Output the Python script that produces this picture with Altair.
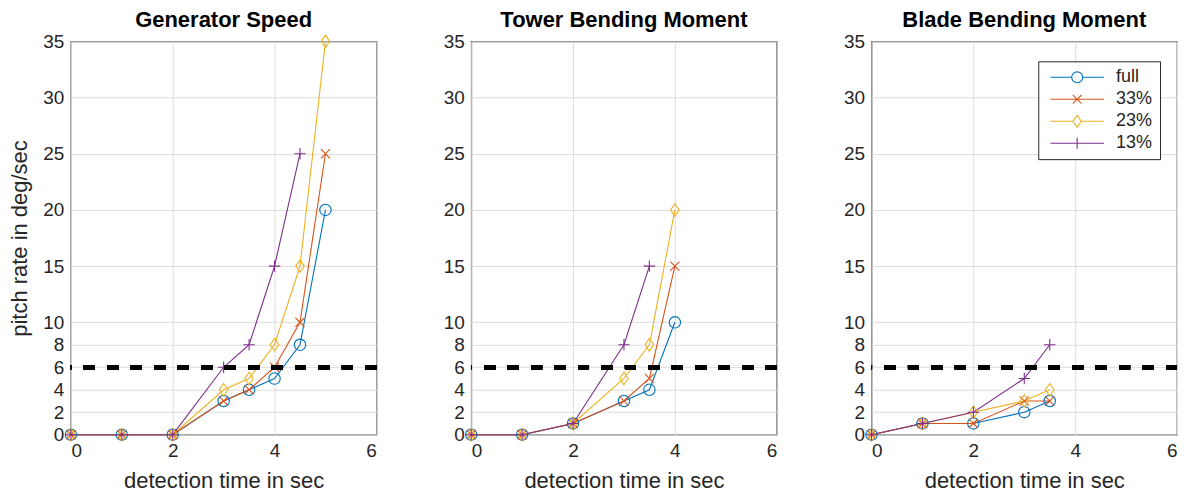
import altair as alt
import pandas as pd

series_names = ["full", "33%", "23%", "13%"]
colors = ["#0072BD", "#D95319", "#EDB120", "#7E2F8E"]

titles = ["Generator Speed", "Tower Bending Moment", "Blade Bending Moment"]

# Generator Speed
gs_x = [0, 1, 2, 3, 3.5, 4, 4.5, 5]
gs_full = [0, 0, 0, 3, 4, 5, 8, 20]
gs_33 = [0, 0, 0, 3, 4, 6, 10, 25]
gs_23 = [0, 0, 0, 4, 5, 8, 15, 35]
gs_13_x = [0, 1, 2, 3, 3.5, 4, 4.5]
gs_13 = [0, 0, 0, 6, 8, 15, 25]

# Tower Bending Moment
tb_x = [0, 1, 2, 3, 3.5, 4]
tb_full = [0, 0, 1, 3, 4, 10]
tb_33 = [0, 0, 1, 3, 5, 15]
tb_23 = [0, 0, 1, 5, 8, 20]
tb_13_x = [0, 1, 2, 3, 3.5]
tb_13 = [0, 0, 1, 8, 15]

# Blade Bending Moment
bb_x = [0, 1, 2, 3, 3.5]
bb_full = [0, 1, 1, 2, 3]
bb_33 = [0, 1, 1, 3, 3]
bb_23 = [0, 1, 2, 3, 4]
bb_13 = [0, 1, 2, 5, 8]

threshold = 6
y_ticks = [0, 2, 4, 6, 8, 10, 15, 20, 25, 30, 35]
x_ticks = [0, 2, 4, 6]

marker_paths = [
    "M-1,0A1,1 0 1,0 1,0A1,1 0 1,0 -1,0",
    "M-0.8,-0.8L0.8,0.8M-0.8,0.8L0.8,-0.8",
    "M0,-1.1L0.75,0L0,1.1L-0.75,0Z",
    "M-1,0L1,0M0,-1L0,1",
]
legend_paths = [
    "M-4.9,0L-1,0M1,0L4.9,0M-1,0A1,1 0 1,0 1,0A1,1 0 1,0 -1,0",
    "M-4.9,0L4.9,0M-0.8,-0.8L0.8,0.8M-0.8,0.8L0.8,-0.8",
    "M-4.9,0L-0.75,0M0.75,0L4.9,0M0,-1.1L0.75,0L0,1.1L-0.75,0Z",
    "M-4.9,0L4.9,0M0,-1L0,1",
]


def make_df(xs_list, ys_list):
    rows = []
    for name, xs, ys in zip(series_names, xs_list, ys_list):
        for xv, yv in zip(xs, ys):
            rows.append({"series": name, "x": xv, "y": yv})
    return pd.DataFrame(rows)


dfs = [
    make_df([gs_x, gs_x, gs_x, gs_13_x], [gs_full, gs_33, gs_23, gs_13]),
    make_df([tb_x, tb_x, tb_x, tb_13_x], [tb_full, tb_33, tb_23, tb_13]),
    make_df([bb_x] * 4, [bb_full, bb_33, bb_23, bb_13]),
]

FONT = "Liberation Sans"
TXT = "#262626"


def panel(df, title, show_ytitle, show_legend):
    x_enc = alt.X(
        "x:Q",
        scale=alt.Scale(domain=[0, 6], nice=False),
        axis=alt.Axis(values=x_ticks, title="detection time in sec", format="d"),
    )
    y_axis = alt.Axis(values=y_ticks, title="pitch rate in deg/sec" if show_ytitle else None,
                      format="d", labelOverlap=False)
    y_enc = alt.Y("y:Q", scale=alt.Scale(domain=[0, 35], nice=False), axis=y_axis)
    color = alt.Color("series:N", scale=alt.Scale(domain=series_names, range=colors), legend=None)
    shape = alt.Shape("series:N", scale=alt.Scale(domain=series_names, range=marker_paths), legend=None)

    base = alt.Chart(df)
    lines = base.mark_line(strokeWidth=1.1, clip=False).encode(x=x_enc, y=y_enc, color=color,
                                                                order=alt.Order("x:Q"))
    pts = base.mark_point(size=130, filled=False, strokeWidth=1.1, opacity=1, clip=False).encode(
        x=x_enc, y=y_enc, color=color, shape=shape)
    rule = base.mark_rule(color="black", strokeWidth=4.5, strokeDash=[11, 12.5]).encode(
        y=alt.YDatum(threshold, scale=alt.Scale(domain=[0, 35], nice=False), axis=y_axis))
    layers = [lines, pts, rule]
    if show_legend:
        lg = alt.Chart(df).transform_filter("false").mark_point(
            size=120, filled=False, strokeWidth=1.1, opacity=1).encode(
            color=alt.Color("series:N", scale=alt.Scale(domain=series_names, range=colors),
                            legend=alt.Legend(title=None, orient="none", legendX=167, legendY=20,
                                              strokeColor=TXT, fillColor="white", padding=7,
                                              symbolOffset=23, labelOffset=30, rowPadding=4,
                                              labelFontSize=18, labelFont=FONT, labelColor=TXT,
                                              symbolSize=120, symbolStrokeWidth=1.1,
                                              cornerRadius=0)),
            shape=alt.Shape("series:N", scale=alt.Scale(domain=series_names, range=legend_paths),
                            legend=alt.Legend(title=None, orient="none", legendX=167, legendY=20)),
        )
        layers.append(lg)
    ch = alt.layer(*layers).properties(
        width=306, height=394,
        title=alt.TitleParams(title, fontSize=22, fontWeight="bold", font=FONT, color="black",
                              offset=0, anchor="middle"))
    if show_legend:
        ch = ch.resolve_scale(color="independent", shape="independent")
    return ch


p1 = panel(dfs[0], titles[0], True, False)
p2 = panel(dfs[1], titles[1], False, False)
p3 = panel(dfs[2], titles[2], False, True)

chart = alt.hconcat(p1, p2, p3, spacing=63).resolve_scale(
    color="independent", shape="independent"
).properties(
    padding={"left": 0, "top": 0, "right": 0, "bottom": 0}
).configure_view(
    stroke=TXT, strokeWidth=1.2
).configure_axis(
    domain=False, ticks=False, grid=True, gridColor="#dcdcdc", gridWidth=1,
    labelFont=FONT, labelFontSize=19, labelColor=TXT, labelPadding=7,
    titleFont=FONT, titleFontSize=22, titleFontWeight="normal", titleColor=TXT,
).configure_axisX(titlePadding=10).configure_axisY(titlePadding=11, labelOverlap=False)

chart.save("out.html", embed_options={"renderer": "svg", "actions": False})
